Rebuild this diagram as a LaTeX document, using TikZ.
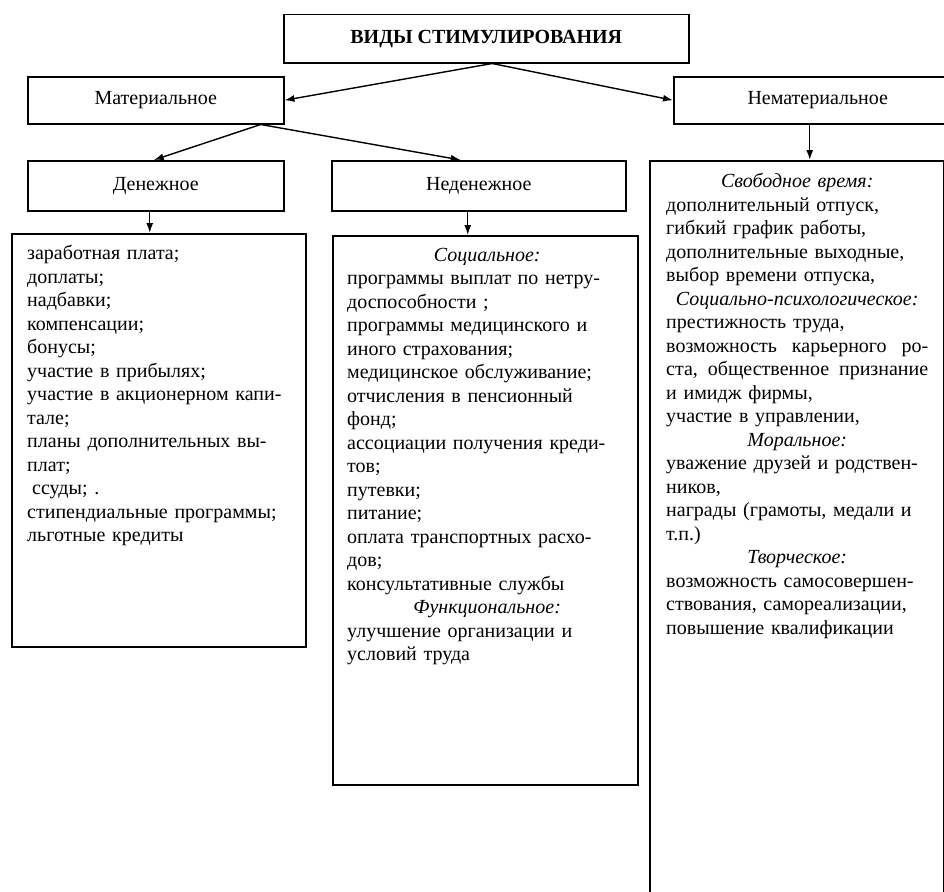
\documentclass[tikz,border=0pt]{standalone}
\usepackage{fontspec}
\setmainfont{Liberation Serif}
\usetikzlibrary{arrows.meta,calc}

% centred italic heading line inside a list
\newcommand\hd[1]{\leavevmode\hspace*{\fill}\textit{#1}\hspace*{\fill}\null}

\begin{document}
\begin{tikzpicture}[x=1pt,y=-1pt,
  frame/.style={draw=black, line width=1.5pt, inner sep=0pt, anchor=north west,
    font=\fontsize{20}{24}\selectfont},
  listtext/.style={inner sep=0pt, anchor=north west, align=left,
    font=\fontsize{20}{23.5}\selectfont},
  arr/.style={draw=black, line width=1.4pt, -{Latex[length=10pt,width=7pt]}}]

\useasboundingbox (0,0) rectangle (944,891);

% header and the two main kinds
\node[frame, minimum width=405, minimum height=48, font=\fontsize{20}{24}\selectfont\bfseries]
  (root) at (283,14) {ВИДЫ СТИМУЛИРОВАНИЯ};
\node[frame, minimum width=256, minimum height=47] (mat) at (27,76) {Материальное};
\node[frame, minimum width=288, minimum height=47] (nemat) at (673,76) {Нематериальное};

% material subdivisions
\node[frame, minimum width=256, minimum height=50] (money) at (27,160) {Денежное};
\node[frame, minimum width=294, minimum height=50] (nonmoney) at (331,160) {Неденежное};

% list frames
\node[frame, minimum width=294, minimum height=413] (L) at (11,233) {};
\node[frame, minimum width=305, minimum height=549] (M) at (332,235) {};
\node[frame, minimum width=294, minimum height=760] (R) at (649,160) {};

% list contents
\node[listtext, text width=272] (Ltxt) at ($(L.north west)+(16,12)$) {%
заработная плата;\\
доплаты;\\
надбавки;\\
компенсации;\\
бонусы;\\
участие в прибылях;\\
участие в акционерном капи-\\
тале;\\
планы дополнительных вы-\\
плат;\\
\hspace*{5pt}ссуды; .\\
стипендиальные программы;\\
льготные кредиты};

\node[listtext, text width=280] (Mtxt) at ($(M.north west)+(15,13)$) {%
\hd{Социальное:}\\
программы выплат по нетру-\\
доспособности ;\\
программы медицинского и\\
иного страхования;\\
медицинское обслуживание;\\
отчисления в пенсионный\\
фонд;\\
ассоциации получения креди-\\
тов;\\
путевки;\\
питание;\\
оплата транспортных расхо-\\
дов;\\
консультативные службы\\
\hd{Функциональное:}\\
улучшение организации и\\
условий труда};

\node[listtext, text width=262] (Rtxt) at ($(R.north west)+(17,13)$) {%
\hd{Свободное время:}\\
дополнительный отпуск,\\
гибкий график работы,\\
дополнительные выходные,\\
выбор времени отпуска,\\
\hd{Социально-психологическое:}\\
престижность труда,\\
возможность\hfill карьерного\hfill ро-\\
ста,\hfill общественное\hfill признание\\
и имидж фирмы,\\
участие в управлении,\\
\hd{Моральное:}\\
уважение друзей и родствен-\\
ников,\\
награды (грамоты, медали и\\
т.п.)\\
\hd{Творческое:}\\
возможность самосовершен-\\
ствования, самореализации,\\
повышение квалификации};

% connectors
\draw[arr] ([xshift=6pt]root.south) -- (mat.east);
\draw[arr] ([xshift=6pt]root.south) -- (nemat.west);
\draw[arr] ([xshift=105pt]mat.south) -- ([xshift=-2pt]money.north);
\draw[arr] ([xshift=105pt]mat.south) -- ([xshift=-18pt]nonmoney.north);
\draw[arr] ([xshift=-6pt]money.south) -- ([xshift=-6pt]money.south |- L.north);
\draw[arr] ([xshift=-11pt]nonmoney.south) -- ([xshift=-11pt]nonmoney.south |- M.north);
\draw[arr] ([xshift=-8pt]nemat.south) -- ([xshift=-8pt]nemat.south |- R.north);

\end{tikzpicture}
\end{document}
